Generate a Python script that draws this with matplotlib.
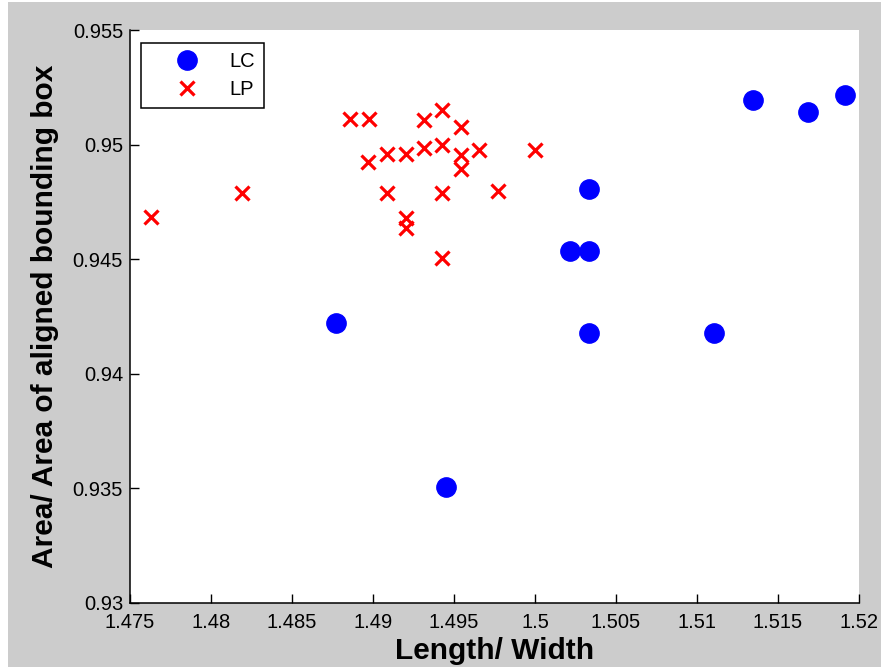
import matplotlib
matplotlib.use('Agg')
from matplotlib import pyplot as plt
from matplotlib.patches import Rectangle

# shape measures of the two particle groups
lc_ratio = [1.51344, 1.51687, 1.51914, 1.50331, 1.50216, 1.50331,
            1.50331, 1.51105, 1.48770, 1.49451]
lc_extent = [0.95194, 0.95143, 0.95216, 0.94806, 0.94537, 0.94537,
             0.94176, 0.94176, 0.94222, 0.93504]

lp_ratio = [1.47628, 1.48190, 1.48858, 1.48975, 1.48971, 1.49088,
            1.49204, 1.49315, 1.49424, 1.49545, 1.49315, 1.49428,
            1.49545, 1.49545, 1.49656, 1.50000, 1.49088, 1.49428,
            1.49770, 1.49204, 1.49204, 1.49428]
lp_extent = [0.94682, 0.94787, 0.95112, 0.95112, 0.94925, 0.94959,
             0.94959, 0.95107, 0.95151, 0.95078, 0.94984, 0.94998,
             0.94954, 0.94892, 0.94976, 0.94976, 0.94787, 0.94787,
             0.94799, 0.94678, 0.94634, 0.94506]

xticks = [1.475, 1.48, 1.485, 1.49, 1.495, 1.5, 1.505, 1.51, 1.515, 1.52]
yticks = [0.93, 0.935, 0.94, 0.945, 0.95, 0.955]

plt.rcParams['font.family'] = ['Liberation Sans', 'DejaVu Sans']

W, H = 881, 672
fig = plt.figure(figsize=(W / 100, H / 100), dpi=100)
fig.patch.set_facecolor('white')
fig.patches.append(Rectangle((8 / W, 5 / H), 1 - 8 / W, (667 - 2) / H,
                             transform=fig.transFigure, facecolor='#cccccc',
                             edgecolor='none', zorder=-1))

ax = fig.add_axes([130 / W, 1 - 603 / H, (859 - 130) / W, (603 - 30) / H])
ax.set_facecolor('white')

ax.plot(lc_ratio, lc_extent, linestyle='none', marker='o', markersize=13.9,
        color='#0000ff', label='LC', clip_on=False)
ax.plot(lp_ratio, lp_extent, linestyle='none', marker='x', markersize=9.4,
        markeredgewidth=2.3, color='#ff0000', label='LP', clip_on=False)

ax.set_xlim(1.475, 1.52)
ax.set_ylim(0.93, 0.955)
ax.set_xticks(xticks)
ax.set_xticklabels(['%g' % v for v in xticks])
ax.set_yticks(yticks)
ax.set_yticklabels(['%g' % v for v in yticks])
ax.tick_params(direction='in', length=6.3, width=1, labelsize=14.5,
               colors='black')
ax.tick_params(axis='x', pad=7)
ax.tick_params(axis='y', pad=5)

for side in ['top', 'right']:
    ax.spines[side].set_visible(False)
for side in ['left', 'bottom']:
    ax.spines[side].set_linewidth(1.1)
    ax.spines[side].set_color('black')

ax.set_xlabel('Length/ Width', fontsize=21.5, fontweight='bold', va='top')
ax.xaxis.set_label_coords(0.5, -(637 - 603) / 573)
ax.set_ylabel('Area/ Area of aligned bounding box', fontsize=21.5,
              fontweight='bold')
ax.yaxis.set_label_coords(-(130 - 59) / 729, 0.5)

leg = ax.legend(loc='upper left', bbox_to_anchor=(11 / 729, 1 - 12.7 / 573),
                borderaxespad=0, fontsize=14.5, numpoints=1, fancybox=False,
                framealpha=1, edgecolor='black', borderpad=0.45,
                handlelength=3.67, handletextpad=0.25, labelspacing=0.45)
leg.get_frame().set_linewidth(1.1)

fig.savefig('out.png', dpi=100, facecolor=fig.get_facecolor())
